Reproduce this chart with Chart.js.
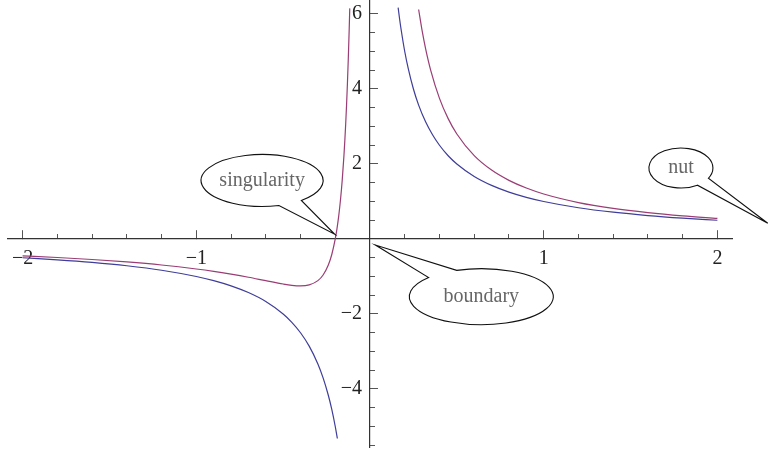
<html>
<head>
<script src="https://cdn.jsdelivr.net/npm/chart.js@4/dist/chart.umd.min.js"></script>
<style>
  body { margin: 0; background: #fff; }
  #wrap { width: 769px; height: 456px; }
</style>
<script>
// curve values
var blueLeftX = [-2, -1.8, -1.6, -1.4, -1.2, -1.0, -0.9, -0.8, -0.7, -0.6, -0.5, -0.45, -0.4, -0.35, -0.3, -0.27, -0.24, -0.22, -0.2, -0.188];
var blueLeftY = [-0.5, -0.556, -0.625, -0.714, -0.833, -1.0, -1.111, -1.25, -1.429, -1.667, -2.0, -2.222, -2.5, -2.857, -3.333, -3.704, -4.167, -4.545, -5.0, -5.32];
var blueRightX = [0.162, 0.17, 0.18, 0.2, 0.22, 0.25, 0.28, 0.32, 0.36, 0.4, 0.45, 0.5, 0.6, 0.7, 0.8, 0.9, 1.0, 1.2, 1.4, 1.6, 1.8, 2.0];
var blueRightY = [6.17, 5.88, 5.56, 5.0, 4.55, 4.0, 3.57, 3.125, 2.78, 2.5, 2.22, 2.0, 1.667, 1.429, 1.25, 1.111, 1.0, 0.833, 0.714, 0.625, 0.556, 0.5];
var purpleLeftX = [-2, -1.8, -1.6, -1.4, -1.2, -1.0, -0.9, -0.8, -0.7, -0.6, -0.5, -0.45, -0.4, -0.35, -0.3, -0.27, -0.24, -0.22, -0.2, -0.19, -0.18, -0.17, -0.16, -0.15, -0.145, -0.14, -0.135, -0.13, -0.125, -0.12, -0.1165];
var purpleLeftY = [-0.45, -0.494, -0.547, -0.612, -0.694, -0.8, -0.864, -0.938, -1.02, -1.111, -1.2, -1.235, -1.25, -1.224, -1.111, -0.96, -0.694, -0.413, 0, 0.277, 0.617, 1.038, 1.563, 2.222, 2.616, 3.061, 3.567, 4.142, 4.8, 5.556, 6.15];
var purpleRightX = [0.28, 0.3, 0.32, 0.35, 0.4, 0.45, 0.5, 0.6, 0.7, 0.8, 0.9, 1.0, 1.2, 1.4, 1.6, 1.8, 2.0];
var purpleRightY = [6.12, 5.556, 5.078, 4.49, 3.75, 3.21, 2.8, 2.222, 1.837, 1.563, 1.358, 1.2, 0.972, 0.816, 0.703, 0.617, 0.55];

// axis ticks
var xMajorTicks = [-2, -1, 1, 2];
var xMinorTicks = [-2, -1.8, -1.6, -1.4, -1.2, -1, -0.8, -0.6, -0.4, -0.2, 0.2, 0.4, 0.6, 0.8, 1, 1.2, 1.4, 1.6, 1.8, 2];
var yMajorTicks = [-4, -2, 2, 4, 6];
var yMinorTicks = [-5.5, -5, -4.5, -4, -3.5, -3, -2.5, -2, -1.5, -1, -0.5, 0.5, 1, 1.5, 2, 2.5, 3, 3.5, 4, 4.5, 5, 5.5, 6];

// callouts: label, tip point, balloon centre (data units)
var calloutLabels = ['singularity', 'boundary', 'nut'];
var calloutTipX = [-0.203, 0.031, 2.29];
var calloutTipY = [0.125, -0.16, 0.42];
var calloutCenterX = [-0.621, 0.641, 1.79];
var calloutCenterY = [1.56, -1.539, 1.893];

var blue = 'rgb(62,61,153)';
var purple = 'rgb(153,61,116)';
var axisColor = '#333';
var serif = "'Liberation Serif', 'DejaVu Serif', serif";

function zip(xs, ys) { return xs.map((x, i) => ({x: x, y: ys[i]})); }
function minus(v) { return v < 0 ? '\u2212' + Math.abs(v) : String(v); }

// balloon shapes: radii and the angles where the pointer leaves the ellipse
var balloonShape = [
  {rx: 61, ry: 26, a1: 50, a2: 74},
  {rx: 72, ry: 28, a1: -137, a2: -110},
  {rx: 32, ry: 20, a1: 31, a2: 59}
];

var callouts = {
  id: 'callouts',
  afterDatasetsDraw(chart) {
    var ctx = chart.ctx, xs = chart.scales.x, ys = chart.scales.y;
    ctx.save();
    calloutLabels.forEach((label, i) => {
      var cx = xs.getPixelForValue(calloutCenterX[i]);
      var cy = ys.getPixelForValue(calloutCenterY[i]);
      var tx = xs.getPixelForValue(calloutTipX[i]);
      var ty = ys.getPixelForValue(calloutTipY[i]);
      var s = balloonShape[i];
      var a1 = s.a1 * Math.PI / 180, a2 = s.a2 * Math.PI / 180;
      ctx.beginPath();
      ctx.ellipse(cx, cy, s.rx, s.ry, 0, a2, a1 + 2 * Math.PI);
      ctx.lineTo(tx, ty);
      ctx.closePath();
      ctx.fillStyle = '#fff';
      ctx.fill();
      ctx.lineWidth = 1.1;
      ctx.strokeStyle = '#111';
      ctx.stroke();
      ctx.fillStyle = '#666';
      ctx.font = '20px ' + serif;
      ctx.textAlign = 'center';
      ctx.textBaseline = 'middle';
      ctx.fillText(label, cx, cy);
    });
    ctx.restore();
  }
};

// axes sit on the origin and take no room in the layout
function noRoom(s) {
  if (s.isHorizontal()) s.height = 0; else s.width = 0;
  s.paddingLeft = s.paddingRight = s.paddingTop = s.paddingBottom = 0;
}

// y labels on an origin axis ignore ticks.padding, so push them left
function yLabelGap(s) {
  noRoom(s);
  if (s._gapPatched) return;
  s._gapPatched = true;
  var orig = s._computeLabelItems;
  s._computeLabelItems = function (area) {
    var items = orig.call(this, area);
    items.forEach(it => { it.options.translation[0] -= 8; });
    return items;
  };
}

function axis(ticks, len, opts) {
  return Object.assign({
    type: 'linear',
    afterBuildTicks: s => { s.ticks = ticks.map(v => ({value: v})); },
    afterFit: noRoom,
    grid: { drawOnChartArea: false, drawTicks: true, tickLength: len, tickColor: '#555', tickWidth: 1 },
    border: { display: true, color: axisColor, width: 1.2 }
  }, opts);
}

window.onload = function () {
  var ctx = document.getElementById('c').getContext('2d');
  var line = (pts, color) => ({
    data: pts, borderColor: color, borderWidth: 1.2, pointRadius: 0,
    showLine: true, fill: false, cubicInterpolationMode: 'monotone'
  });
  new Chart(ctx, {
    type: 'scatter',
    data: {
      datasets: [
        line(zip(blueLeftX, blueLeftY), blue),
        line(zip(blueRightX, blueRightY), blue),
        line(zip(purpleLeftX, purpleLeftY), purple),
        line(zip(purpleRightX, purpleRightY), purple)
      ]
    },
    options: {
      responsive: false,
      animation: false,
      layout: { padding: { left: 8, right: 37, top: 0, bottom: 9 } },
      plugins: { legend: { display: false }, tooltip: { enabled: false } },
      scales: {
        x: axis(xMajorTicks, -9, {
          min: -2.084, max: 2.084, position: { y: 0 },
          ticks: { font: { family: serif, size: 20 }, color: '#222', padding: 17, maxRotation: 0, autoSkip: false, callback: v => minus(v) }
        }),
        x2: axis(xMinorTicks, -5, {
          min: -2.084, max: 2.084, position: { y: 0 },
          border: { display: false },
          ticks: { display: false }
        }),
        y: axis(yMajorTicks, -9, {
          min: -5.547, max: 6.373, position: { x: 0 },
          afterFit: yLabelGap,
          ticks: { font: { family: serif, size: 20 }, color: '#222', autoSkip: false, callback: v => minus(v) }
        }),
        y2: axis(yMinorTicks, -5, {
          min: -5.547, max: 6.373, position: { x: 0 },
          border: { display: false },
          ticks: { display: false }
        })
      }
    },
    plugins: [callouts]
  });
};
</script>
</head>
<body>
  <div id="wrap">
    <canvas id="c" width="769" height="456"></canvas>
  </div>
</body>
</html>
